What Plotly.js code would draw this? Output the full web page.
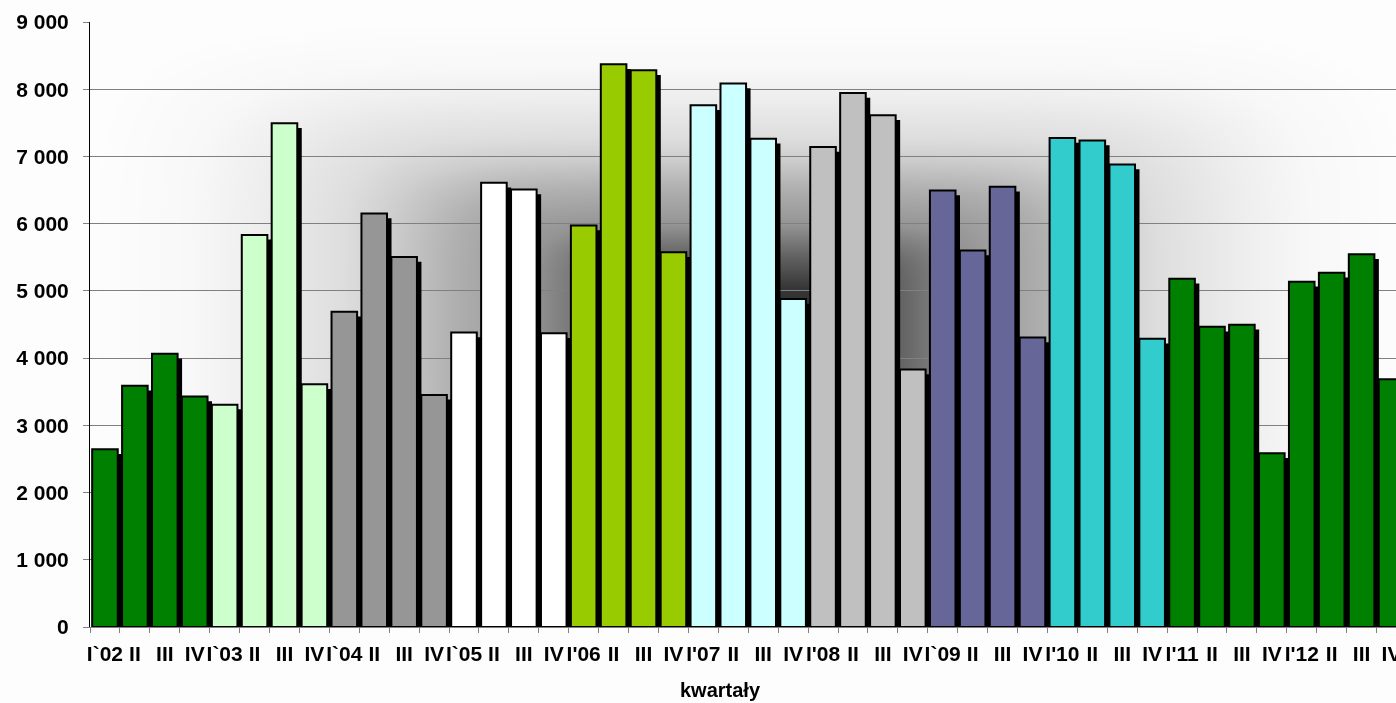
<!DOCTYPE html>
<html>
<head>
<meta charset="utf-8">
<script src="https://cdn.plot.ly/plotly-3.0.1.min.js"></script>
<style>
  html, body { margin: 0; padding: 0; overflow: hidden; background: #fff; }
  #bg { position: absolute; left: 0; top: 0; }
  #chart { position: absolute; left: 0; top: 0; width: 1396px; height: 703px; }
</style>
</head>
<body>
<canvas id="bg" width="1396" height="703"></canvas>
<div id="chart"></div>
<script>
// ---- data ----
const categories = [
  "2002-I","2002-II","2002-III","2002-IV",
  "2003-I","2003-II","2003-III","2003-IV",
  "2004-I","2004-II","2004-III","2004-IV",
  "2005-I","2005-II","2005-III","2005-IV",
  "2006-I","2006-II","2006-III","2006-IV",
  "2007-I","2007-II","2007-III","2007-IV",
  "2008-I","2008-II","2008-III","2008-IV",
  "2009-I","2009-II","2009-III","2009-IV",
  "2010-I","2010-II","2010-III","2010-IV",
  "2011-I","2011-II","2011-III","2011-IV",
  "2012-I","2012-II","2012-III","2012-IV"
];
const tickLabels = [
  "I`02","II","III","IV",
  "I`03","II","III","IV",
  "I`04","II","III","IV",
  "I`05","II","III","IV",
  "I'06","II","III","IV",
  "I'07","II","III","IV",
  "I'08","II","III","IV",
  "I`09","II","III","IV",
  "I'10","II","III","IV",
  "I'11","II","III","IV",
  "I'12","II","III","IV"
];
const values = [
  2644, 3587, 4064, 3428,
  3308, 5833, 7492, 3612,
  4690, 6151, 5505, 3453,
  4381, 6608, 6508, 4370,
  5972, 8371, 8282, 5574,
  7760, 8085, 7264, 4879,
  7139, 7943, 7611, 3830,
  6493, 5599, 6548, 4307,
  7274, 7237, 6881, 4288,
  5180, 4466, 4496, 2584,
  5137, 5271, 5544, 3687
];
const yearColors = [
  "#008000", "#CCFFCC", "#969696", "#FFFFFF", "#99CC00", "#CCFFFF",
  "#C0C0C0", "#666699", "#33CCCC", "#008000", "#008000"
];
const xTitle = "kwartały";

// ---- background: centred path gradient like the original ----
(function drawBackground() {
  const cv = document.getElementById('bg');
  const ctx = cv.getContext('2d');
  const W = cv.width, H = cv.height;
  const img = ctx.createImageData(W, H);
  const cx = 750, cy = 324, hw = 660, hh = 302, p = 6;
  const stops = [[0, 40], [0.12, 54], [0.23, 100], [0.33, 148], [0.45, 176],
                 [0.55, 206], [0.62, 222], [0.75, 238], [0.85, 248], [1.0, 253], [9, 253]];
  function shade(t) {
    for (let k = 1; k < stops.length; k++) {
      if (t <= stops[k][0]) {
        const a = stops[k - 1], b = stops[k];
        return a[1] + (b[1] - a[1]) * (t - a[0]) / (b[0] - a[0]);
      }
    }
    return 253;
  }
  for (let y = 0; y < H; y++) {
    for (let x = 0; x < W; x++) {
      const u = Math.abs(x - cx) / hw, v = Math.abs(y - cy) / hh;
      const t = Math.pow(Math.pow(u, p) + Math.pow(v, p), 1 / p);
      const g = shade(t);
      const i = (y * W + x) * 4;
      img.data[i] = g; img.data[i + 1] = g; img.data[i + 2] = g; img.data[i + 3] = 255;
    }
  }
  ctx.putImageData(img, 0, 0);
})();

// ---- chart ----
const barColors = values.map((v, i) => yearColors[Math.floor(i / 4)]);
const shadowDrop = 70;           // shadow starts a little below the bar top
const barWidth = 0.855;
const shadowShift = 0.15;

const shadow = {
  type: 'bar',
  x: categories,
  y: values.map(v => v - shadowDrop),
  width: barWidth,
  offset: -barWidth / 2 + shadowShift,
  marker: { color: '#000000', line: { width: 0 } },
  hoverinfo: 'skip',
  showlegend: false
};
const bars = {
  type: 'bar',
  x: categories,
  y: values,
  width: barWidth,
  offset: -barWidth / 2,
  marker: { color: barColors, line: { color: '#000000', width: 2 } },
  showlegend: false
};

const tickFont = { family: 'Liberation Sans, Arial, sans-serif', size: 21, color: '#000000', weight: 700 };

const layout = {
  width: 1396,
  height: 703,
  autosize: false,
  margin: { l: 90, r: 0, t: 22, b: 76, pad: 0 },
  paper_bgcolor: 'rgba(0,0,0,0)',
  plot_bgcolor: 'rgba(0,0,0,0)',
  barmode: 'overlay',
  separators: ', ',
  showlegend: false,
  xaxis: {
    type: 'category',
    range: [-0.5, 43.15],
    tickmode: 'array',
    tickvals: categories,
    ticktext: tickLabels,
    tickson: 'boundaries',
    ticks: 'outside',
    ticklen: 5,
    tickcolor: '#808080',
    tickangle: 0,
    showgrid: false,
    showline: true,
    linecolor: '#808080',
    linewidth: 1,
    tickfont: tickFont,
    ticklabelstandoff: 8,
    fixedrange: true
  },
  yaxis: {
    range: [0, 9000],
    dtick: 1000,
    tick0: 0,
    tickformat: ',d',
    separatethousands: true,
    ticks: 'outside',
    ticklen: 6,
    tickcolor: '#808080',
    showgrid: true,
    gridcolor: '#808080',
    gridwidth: 1,
    zeroline: false,
    showline: true,
    linecolor: '#000000',
    linewidth: 1,
    tickfont: tickFont,
    ticklabelstandoff: 10,
    fixedrange: true
  },
  annotations: [{
    text: xTitle,
    xref: 'paper', yref: 'paper',
    x: (720 - 90) / 1306, y: (627 - 690) / 605,
    xanchor: 'center', yanchor: 'middle',
    showarrow: false,
    font: { family: 'Liberation Sans, Arial, sans-serif', size: 20, color: '#000000', weight: 700 }
  }]
};

Plotly.newPlot('chart', [shadow, bars], layout, { displayModeBar: false, staticPlot: true });
</script>
</body>
</html>
